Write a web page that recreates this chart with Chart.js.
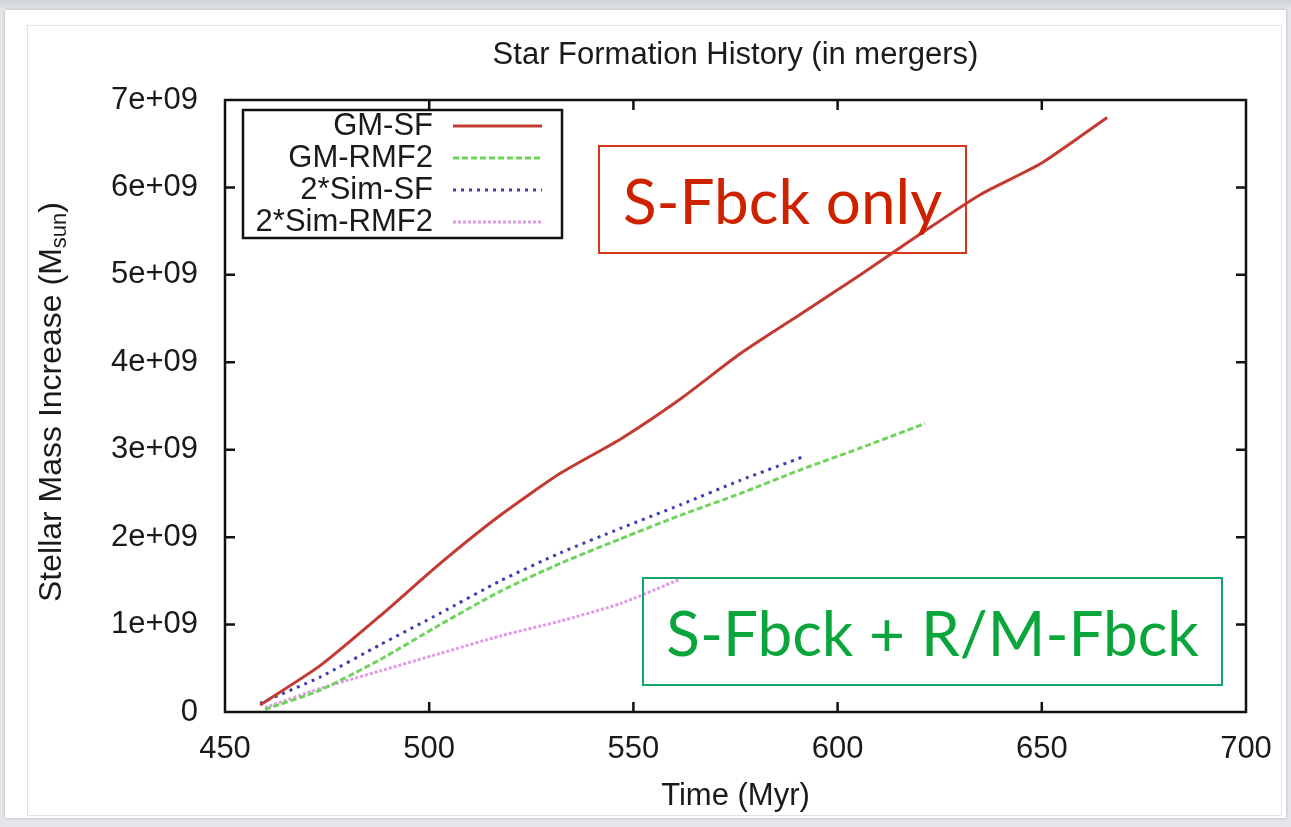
<!DOCTYPE html>
<html>
<head>
<meta charset="utf-8">
<title>Star Formation History (in mergers)</title>
<script src="https://cdn.jsdelivr.net/npm/chart.js@4"></script>
<style>
  html, body { margin: 0; padding: 0; }
  body {
    width: 1291px; height: 827px; overflow: hidden; position: relative;
    background: linear-gradient(#cfd2d6 0px, #e4e6e9 10px, #e4e6e9 100%);
  }
  .card {
    position: absolute; left: 5px; top: 10px; width: 1281px; height: 808px;
    background: #fff; box-shadow: 0 0 3px rgba(0,0,0,0.25);
  }
  .frame {
    position: absolute; left: 27px; top: 25px; width: 1255px; height: 791px;
    border: 1px solid #e2e2e2; box-sizing: border-box;
  }
  canvas { position: absolute; left: 0; top: 0; }
  .note {
    position: absolute; box-sizing: border-box; display: flex;
    align-items: center; justify-content: center;
    font-family: Lato, "Open Sans", sans-serif; font-size: 62px; white-space: nowrap;
  }
  .note.red { left: 598px; top: 145px; width: 369px; height: 109px; border: 2px solid #d8351c; color: #cc2200; }
  .note.green { left: 642px; top: 577px; width: 581px; height: 109px; border: 2px solid #14a468; color: #0aa63c; }
</style>
</head>
<body>
<div class="card"></div>
<div class="frame"></div>
<canvas id="chart" width="1291" height="827"></canvas>
<div class="note red">S-Fbck only</div>
<div class="note green">S-Fbck + R/M-Fbck</div>
<script>
// Time (Myr) and stellar mass increase (M_sun) for each run
const gmSfTime   = [458.6, 473.3, 488.0, 502.7, 517.4, 532.1, 546.8, 561.5, 576.2, 590.9, 605.6, 620.3, 635.0, 650.0, 666.0];
const gmSfMass   = [0.08e9, 0.53e9, 1.10e9, 1.70e9, 2.25e9, 2.73e9, 3.12e9, 3.58e9, 4.10e9, 4.55e9, 5.00e9, 5.47e9, 5.92e9, 6.28e9, 6.80e9];

const gmRmfTime  = [459.8, 473.3, 488.0, 502.7, 517.4, 532.1, 546.8, 561.5, 576.2, 590.9, 605.6, 621.4];
const gmRmfMass  = [0.03e9, 0.25e9, 0.60e9, 1.00e9, 1.38e9, 1.70e9, 1.98e9, 2.25e9, 2.50e9, 2.77e9, 3.02e9, 3.30e9];

const simSfTime  = [458.6, 473.3, 488.0, 502.7, 517.4, 532.1, 546.8, 561.5, 576.2, 591.6];
const simSfMass  = [0.10e9, 0.40e9, 0.77e9, 1.13e9, 1.50e9, 1.82e9, 2.10e9, 2.37e9, 2.65e9, 2.92e9];

const simRmfTime = [459.8, 473.3, 488.0, 502.7, 517.4, 532.1, 546.8, 561.5];
const simRmfMass = [0.05e9, 0.27e9, 0.47e9, 0.67e9, 0.87e9, 1.04e9, 1.24e9, 1.52e9];

const seriesNames = ['GM-SF', 'GM-RMF2', '2*Sim-SF', '2*Sim-RMF2'];
const xTicks = [450, 500, 550, 600, 650, 700];
const yTickLabels = ['0', '1e+09', '2e+09', '3e+09', '4e+09', '5e+09', '6e+09', '7e+09'];

const FONT = '"Liberation Sans", Arial, sans-serif';
const INK = '#1a1a1a';
const pts = (xs, ys) => xs.map((x, i) => ({ x, y: ys[i] }));

// gnuplot-style box, mirrored inward ticks, titles and legend
const gnuplotFrame = {
  id: 'gnuplotFrame',
  afterDatasetsDraw(chart) {
    const { ctx, chartArea: a, scales: { x, y } } = chart;
    ctx.save();
    ctx.strokeStyle = '#111';
    ctx.lineWidth = 2.5;
    ctx.strokeRect(a.left, a.top, a.right - a.left, a.bottom - a.top);

    const tl = 10;
    ctx.beginPath();
    x.ticks.forEach(t => {
      const px = x.getPixelForValue(t.value);
      if (px <= a.left + 1 || px >= a.right - 1) return;
      ctx.moveTo(px, a.bottom); ctx.lineTo(px, a.bottom - tl);
      ctx.moveTo(px, a.top); ctx.lineTo(px, a.top + tl);
    });
    y.ticks.forEach(t => {
      const py = y.getPixelForValue(t.value);
      if (py <= a.top + 1 || py >= a.bottom - 1) return;
      ctx.moveTo(a.left, py); ctx.lineTo(a.left + tl, py);
      ctx.moveTo(a.right, py); ctx.lineTo(a.right - tl, py);
    });
    ctx.stroke();

    // title
    ctx.fillStyle = INK;
    ctx.font = '31px ' + FONT;
    ctx.textAlign = 'center';
    ctx.textBaseline = 'middle';
    ctx.fillText('Star Formation History (in mergers)', (a.left + a.right) / 2, 55);

    // x axis title
    ctx.font = '31px ' + FONT;
    ctx.fillText('Time (Myr)', (a.left + a.right) / 2, 796);

    // y axis title with subscript
    ctx.save();
    ctx.translate(52, 402);
    ctx.rotate(-Math.PI / 2);
    const main = 'Stellar Mass Increase (M';
    const big = '32px ' + FONT, small = '22px ' + FONT;
    ctx.font = big; const w1 = ctx.measureText(main).width;
    ctx.font = small; const w2 = ctx.measureText('sun').width;
    ctx.font = big; const w3 = ctx.measureText(')').width;
    let sx = -(w1 + w2 + w3) / 2;
    ctx.textAlign = 'left';
    ctx.font = big; ctx.fillText(main, sx, 0); sx += w1;
    ctx.font = small; ctx.fillText('sun', sx, 8); sx += w2;
    ctx.font = big; ctx.fillText(')', sx, 0);
    ctx.restore();

    // legend box
    const lx = 243, ly = 110, lw = 319, lh = 128;
    ctx.fillStyle = '#fff';
    ctx.fillRect(lx, ly, lw, lh);
    ctx.strokeStyle = '#111';
    ctx.lineWidth = 2.5;
    ctx.strokeRect(lx, ly, lw, lh);
    ctx.font = '31px ' + FONT;
    ctx.textAlign = 'right';
    chart.data.datasets.forEach((ds, i) => {
      const ry = 126 + i * 32;
      ctx.fillStyle = INK;
      ctx.fillText(ds.label, 433, ry);
      ctx.beginPath();
      ctx.strokeStyle = ds.borderColor;
      ctx.lineWidth = ds.borderWidth;
      ctx.setLineDash(ds.borderDash || []);
      ctx.moveTo(453, ry); ctx.lineTo(542, ry);
      ctx.stroke();
      ctx.setLineDash([]);
    });
    ctx.restore();
  }
};

new Chart(document.getElementById('chart'), {
  type: 'line',
  data: {
    datasets: [
      { label: seriesNames[0], data: pts(gmSfTime, gmSfMass),   borderColor: '#c23a30', borderWidth: 3, borderDash: [] },
      { label: seriesNames[1], data: pts(gmRmfTime, gmRmfMass), borderColor: '#6fd35c', borderWidth: 3, borderDash: [6, 3] },
      { label: seriesNames[2], data: pts(simSfTime, simSfMass), borderColor: '#3d3fb0', borderWidth: 3, borderDash: [3, 5] },
      { label: seriesNames[3], data: pts(simRmfTime, simRmfMass), borderColor: '#e39be9', borderWidth: 3, borderDash: [3, 2] }
    ]
  },
  options: {
    responsive: false,
    animation: false,
    devicePixelRatio: 1,
    layout: { padding: { left: 0, right: 45, top: 100, bottom: 0 } },
    elements: { point: { radius: 0 }, line: { tension: 0.2 } },
    plugins: { legend: { display: false }, title: { display: false }, tooltip: { enabled: false } },
    scales: {
      x: {
        type: 'linear', min: 450, max: 700,
        afterBuildTicks: s => { s.ticks = xTicks.map(v => ({ value: v })); },
        afterFit: s => { s.height = 115; },
        grid: { display: false },
        border: { display: false },
        ticks: { padding: 11, color: INK, font: { family: FONT, size: 31 } }
      },
      y: {
        type: 'linear', min: 0, max: 7e9,
        afterFit: s => { s.width = 225; },
        grid: { display: false },
        border: { display: false },
        ticks: {
          stepSize: 1e9, padding: 19, color: INK,
          font: { family: FONT, size: 31 },
          callback: (v, i) => yTickLabels[i]
        }
      }
    }
  },
  plugins: [gnuplotFrame]
});
</script>
</body>
</html>
